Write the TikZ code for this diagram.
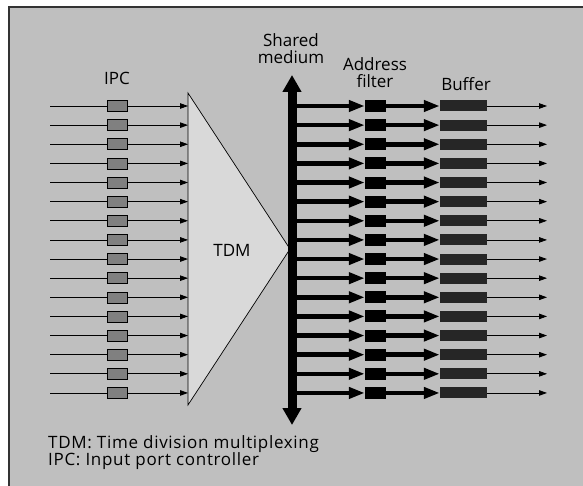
\documentclass[tikz,border=0pt]{standalone}
\usepackage{fontspec}
\setmainfont{Open Sans}
\usetikzlibrary{arrows.meta,positioning}
\definecolor{latar}{gray}{0.75}
\definecolor{segitiga}{gray}{0.85}

\tikzset{
  ipcbox/.style={draw=black, fill=black!50, line width=0.6pt,
    minimum width=20pt, minimum height=11pt, inner sep=0pt},
  filtbox/.style={fill=black, minimum width=21pt, minimum height=12pt, inner sep=0pt},
  bufbox/.style={fill=black!85, minimum width=47pt, minimum height=11pt, inner sep=0pt},
  thin arrow/.style={-{Triangle[length=8pt,width=5.5pt]}, line width=0.8pt},
  thick arrow/.style={-{Triangle[length=16pt,width=11pt]}, line width=4.5pt},
  lbl/.style={font=\fontsize{17}{17.5}\selectfont, align=center, inner sep=0pt}
}

\begin{document}
\begin{tikzpicture}[x=1pt,y=-1pt]
\useasboundingbox (0,0) rectangle (583,486);

% latar belakang
\fill[latar] (9,7) rectangle (583,486);
\draw[line width=1.2pt, black!80] (9,486) -- (9,7) -- (583,7);

% segitiga TDM
\coordinate (T1) at (188,93);
\coordinate (T2) at (188,405);
\coordinate (T3) at (290,249);
\filldraw[fill=segitiga, line width=0.7pt] (T1) -- (T2) -- (T3) -- cycle;
\node[lbl] (tdm) at (232,250) {TDM};

% shared medium
\coordinate (Mtop) at (292,75);
\coordinate (Mbot) at (292,425);
\draw[line width=9pt, {Triangle[length=17pt,width=18pt]}-{Triangle[length=17pt,width=18pt]}] (Mtop) -- (Mbot);

% baris-baris
\foreach \i in {1,...,16}{
  \pgfmathsetmacro\y{106+19.13*(\i-1)}
  \coordinate (in\i) at (50,\y);
  \node[ipcbox] (ipc\i) at (117,\y) {};
  \coordinate (tdm\i) at (188,\y);
  \draw[line width=0.8pt] (in\i) -- (ipc\i);
  \draw[thin arrow] (ipc\i) -- (tdm\i);
  \coordinate (med\i) at (296,\y);
  \node[filtbox] (filt\i) at (375.5,\y) {};
  \node[bufbox] (buf\i) at (463.5,\y) {};
  \coordinate (out\i) at (547,\y);
  \draw[thick arrow] (med\i) -- (filt\i);
  \draw[thick arrow] (filt\i) -- (buf\i);
  \draw[thin arrow] (buf\i) -- (out\i);
}

% label
\node[lbl, anchor=north] (ipclbl) at (117,72) {IPC};
\node[lbl, anchor=north] (shared) at (291,33) {Shared\\medium};
\node[lbl, anchor=north] (addr) at (375,57) {Address\\filter};
\node[lbl, anchor=north] (buflbl) at (466,77) {Buffer};
\node[lbl, anchor=north west, align=left,
  font=\fontsize{17}{17.5}\selectfont\addfontfeature{LetterSpace=4}] (legend) at (48,435)
  {TDM: Time division multiplexing\\IPC: Input port controller};

\end{tikzpicture}
\end{document}
